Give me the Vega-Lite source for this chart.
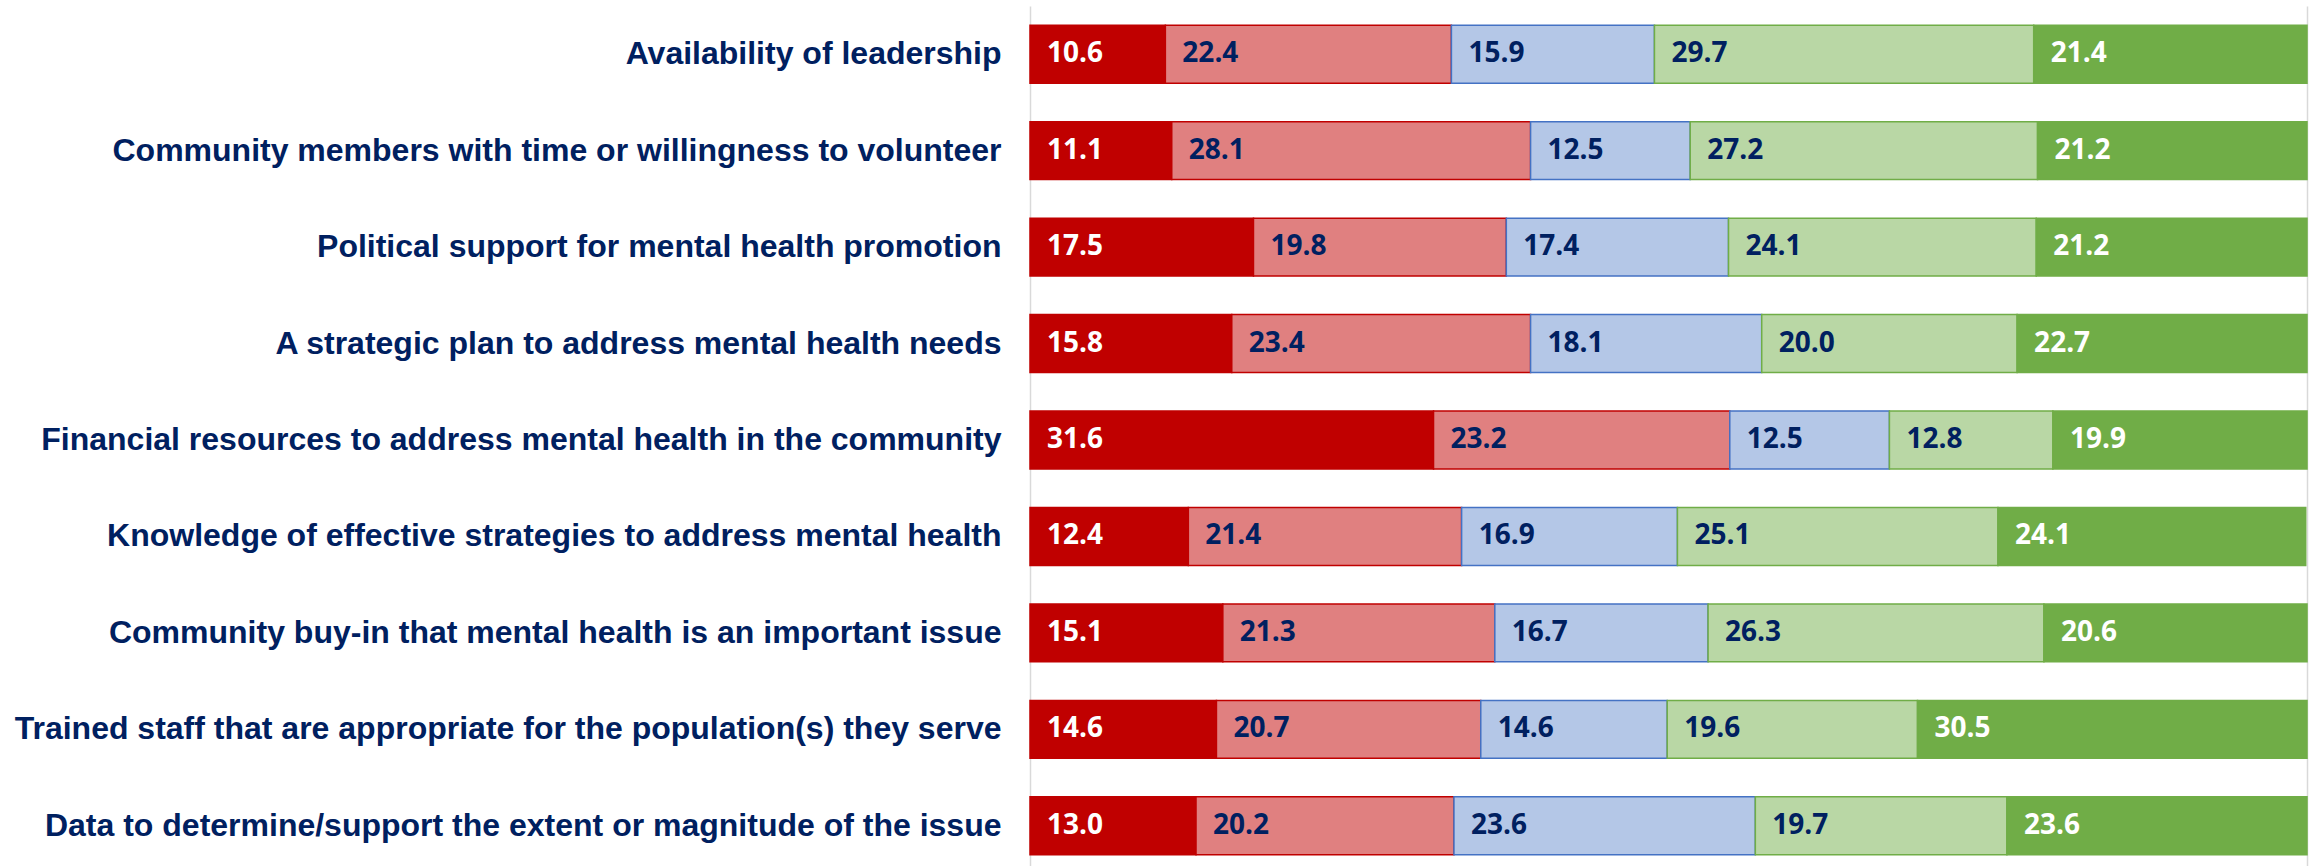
{
  "$schema": "https://vega.github.io/schema/vega-lite/v6.json",
  "autosize": {"type": "none"},
  "padding": {"left": 1030, "top": 6, "right": 8, "bottom": 0},
  "width": 1277,
  "height": 868,
  "background": "white",
  "config": {"view": {"stroke": null}},
  "data": {
    "values": [
      {"item": "Availability of leadership", "cat": "SD", "k": 1, "v": 10.6},
      {"item": "Availability of leadership", "cat": "D", "k": 2, "v": 22.4},
      {"item": "Availability of leadership", "cat": "N", "k": 3, "v": 15.9},
      {"item": "Availability of leadership", "cat": "A", "k": 4, "v": 29.7},
      {"item": "Availability of leadership", "cat": "SA", "k": 5, "v": 21.4},
      {"item": "Community members with time or willingness to volunteer", "cat": "SD", "k": 1, "v": 11.1},
      {"item": "Community members with time or willingness to volunteer", "cat": "D", "k": 2, "v": 28.1},
      {"item": "Community members with time or willingness to volunteer", "cat": "N", "k": 3, "v": 12.5},
      {"item": "Community members with time or willingness to volunteer", "cat": "A", "k": 4, "v": 27.2},
      {"item": "Community members with time or willingness to volunteer", "cat": "SA", "k": 5, "v": 21.2},
      {"item": "Political support for mental health promotion", "cat": "SD", "k": 1, "v": 17.5},
      {"item": "Political support for mental health promotion", "cat": "D", "k": 2, "v": 19.8},
      {"item": "Political support for mental health promotion", "cat": "N", "k": 3, "v": 17.4},
      {"item": "Political support for mental health promotion", "cat": "A", "k": 4, "v": 24.1},
      {"item": "Political support for mental health promotion", "cat": "SA", "k": 5, "v": 21.2},
      {"item": "A strategic plan to address mental health needs", "cat": "SD", "k": 1, "v": 15.8},
      {"item": "A strategic plan to address mental health needs", "cat": "D", "k": 2, "v": 23.4},
      {"item": "A strategic plan to address mental health needs", "cat": "N", "k": 3, "v": 18.1},
      {"item": "A strategic plan to address mental health needs", "cat": "A", "k": 4, "v": 20.0},
      {"item": "A strategic plan to address mental health needs", "cat": "SA", "k": 5, "v": 22.7},
      {"item": "Financial resources to address mental health in the community", "cat": "SD", "k": 1, "v": 31.6},
      {"item": "Financial resources to address mental health in the community", "cat": "D", "k": 2, "v": 23.2},
      {"item": "Financial resources to address mental health in the community", "cat": "N", "k": 3, "v": 12.5},
      {"item": "Financial resources to address mental health in the community", "cat": "A", "k": 4, "v": 12.8},
      {"item": "Financial resources to address mental health in the community", "cat": "SA", "k": 5, "v": 19.9},
      {"item": "Knowledge of effective strategies to address mental health", "cat": "SD", "k": 1, "v": 12.4},
      {"item": "Knowledge of effective strategies to address mental health", "cat": "D", "k": 2, "v": 21.4},
      {"item": "Knowledge of effective strategies to address mental health", "cat": "N", "k": 3, "v": 16.9},
      {"item": "Knowledge of effective strategies to address mental health", "cat": "A", "k": 4, "v": 25.1},
      {"item": "Knowledge of effective strategies to address mental health", "cat": "SA", "k": 5, "v": 24.1},
      {"item": "Community buy-in that mental health is an important issue", "cat": "SD", "k": 1, "v": 15.1},
      {"item": "Community buy-in that mental health is an important issue", "cat": "D", "k": 2, "v": 21.3},
      {"item": "Community buy-in that mental health is an important issue", "cat": "N", "k": 3, "v": 16.7},
      {"item": "Community buy-in that mental health is an important issue", "cat": "A", "k": 4, "v": 26.3},
      {"item": "Community buy-in that mental health is an important issue", "cat": "SA", "k": 5, "v": 20.6},
      {"item": "Trained staff that are appropriate for the population(s) they serve", "cat": "SD", "k": 1, "v": 14.6},
      {"item": "Trained staff that are appropriate for the population(s) they serve", "cat": "D", "k": 2, "v": 20.7},
      {"item": "Trained staff that are appropriate for the population(s) they serve", "cat": "N", "k": 3, "v": 14.6},
      {"item": "Trained staff that are appropriate for the population(s) they serve", "cat": "A", "k": 4, "v": 19.6},
      {"item": "Trained staff that are appropriate for the population(s) they serve", "cat": "SA", "k": 5, "v": 30.5},
      {"item": "Data to determine/support the extent or magnitude of the issue", "cat": "SD", "k": 1, "v": 13.0},
      {"item": "Data to determine/support the extent or magnitude of the issue", "cat": "D", "k": 2, "v": 20.2},
      {"item": "Data to determine/support the extent or magnitude of the issue", "cat": "N", "k": 3, "v": 23.6},
      {"item": "Data to determine/support the extent or magnitude of the issue", "cat": "A", "k": 4, "v": 19.7},
      {"item": "Data to determine/support the extent or magnitude of the issue", "cat": "SA", "k": 5, "v": 23.6}
    ]
  },
  "transform": [
    {"stack": "v", "groupby": ["item"], "sort": [{"field": "k", "order": "ascending"}], "as": ["x0", "x1"]}
  ],
  "encoding": {
    "y": {
      "field": "item",
      "type": "nominal",
      "sort": null,
      "scale": {"paddingInner": 0.4, "paddingOuter": 0.2},
      "axis": {
        "title": null,
        "domain": false,
        "ticks": false,
        "labelFont": "Liberation Sans",
        "labelFontWeight": "bold",
        "labelFontSize": 32,
        "labelColor": "#002060",
        "labelPadding": 29,
        "labelLimit": 1100
      }
    }
  },
  "layer": [
    {
      "mark": {"type": "bar", "strokeWidth": 1.5},
      "encoding": {
        "x": {
          "field": "x0",
          "type": "quantitative",
          "scale": {"domain": [0, 100], "nice": false, "clamp": true},
          "axis": {
            "title": null,
            "values": [0, 100],
            "labels": false,
            "ticks": false,
            "domain": false,
            "grid": true,
            "gridColor": "#d9d9d9",
            "gridWidth": 1.5
          }
        },
        "x2": {"field": "x1"},
        "color": {
          "field": "cat",
          "type": "nominal",
          "legend": null,
          "scale": {"domain": ["SD", "D", "N", "A", "SA"], "range": ["#C00000", "#E08080", "#B4C7E7", "#B9D7A5", "#70AD47"]}
        },
        "stroke": {
          "field": "cat",
          "type": "nominal",
          "legend": null,
          "scale": {"domain": ["SD", "D", "N", "A", "SA"], "range": ["#C00000", "#C00000", "#4472C4", "#70AD47", "#70AD47"]}
        }
      }
    },
    {
      "mark": {"type": "text", "align": "left", "baseline": "middle", "dx": 17, "font": "Open Sans", "fontWeight": "bold", "fontSize": 28},
      "encoding": {
        "x": {"field": "x0", "type": "quantitative"},
        "text": {"field": "v", "type": "quantitative", "format": ".1f"},
        "color": {
          "condition": {"test": "datum.cat === 'SD' || datum.cat === 'SA'", "value": "#FFFFFF"},
          "value": "#002060"
        }
      }
    }
  ]
}
